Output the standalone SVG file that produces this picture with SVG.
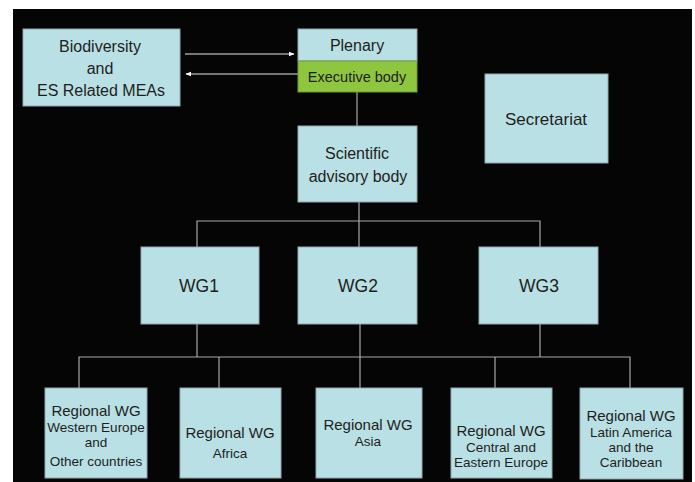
<svg xmlns="http://www.w3.org/2000/svg" width="695" height="482" viewBox="0 0 695 482">
<defs>
<style>
.box{fill:#b9e0e4;stroke:#8fa9ad;stroke-width:1}
.green{fill:#8fc640;stroke:#6f9a30;stroke-width:1}
.t{font-family:"Liberation Sans",Arial,sans-serif;fill:#1e1e1e;text-anchor:middle}
.s{font-size:13.5px}
.l{stroke:#a8a8a8;stroke-width:1.2;fill:none}
.a{stroke:#e8e8e8;stroke-width:1.2;fill:none}
</style>
<marker id="ah" viewBox="0 0 10 10" refX="9" refY="5" markerWidth="5" markerHeight="5" orient="auto">
<path d="M0,1 L10,5 L0,9 z" fill="#ffffff"/>
</marker>
</defs>
<rect x="0" y="0" width="695" height="482" fill="#ffffff"/>
<rect x="13" y="9" width="679" height="473" fill="#050505"/>
<g id="connectors">
<line class="a" x1="185" y1="54" x2="294" y2="54" marker-end="url(#ah)"/>
<line class="a" x1="298" y1="74" x2="186" y2="74" marker-end="url(#ah)"/>
<line class="l" x1="357" y1="92" x2="357" y2="126"/>
<line class="l" x1="359" y1="202" x2="359" y2="247"/>
<polyline class="l" points="197,247 197,221 540,221 540,247"/>
<line class="l" x1="197" y1="324" x2="197" y2="357"/>
<line class="l" x1="360" y1="324" x2="360" y2="388"/>
<line class="l" x1="540" y1="324" x2="540" y2="357"/>
<polyline class="l" points="79,388 79,357 630,357 630,388"/>
<line class="l" x1="219" y1="357" x2="219" y2="388"/>
<line class="l" x1="495" y1="357" x2="495" y2="388"/>
</g>
<g id="biodiversity">
<rect class="box" x="23" y="29" width="157" height="77"/>
<text class="t" font-size="16" x="100" y="52">Biodiversity</text>
<text class="t" font-size="16" x="100" y="74">and</text>
<text class="t" font-size="16" x="101" y="96">ES Related MEAs</text>
</g>
<g id="plenary">
<rect class="box" x="298" y="29" width="119" height="32"/>
<text class="t" font-size="16" x="357" y="51">Plenary</text>
</g>
<g id="executive">
<rect class="green" x="298" y="61" width="119" height="31"/>
<text class="t" font-size="14.5" x="357" y="82">Executive body</text>
</g>
<g id="secretariat">
<rect class="box" x="485" y="74" width="123" height="89"/>
<text class="t" font-size="17" x="546" y="125">Secretariat</text>
</g>
<g id="scientific">
<rect class="box" x="298" y="126" width="119" height="76"/>
<text class="t" font-size="16" x="357" y="159">Scientific</text>
<text class="t" font-size="16" x="358" y="182">advisory body</text>
</g>
<g id="wg1">
<rect class="box" x="141" y="247" width="118" height="77"/>
<text class="t" font-size="17.5" x="199" y="292">WG1</text>
</g>
<g id="wg2">
<rect class="box" x="298" y="247" width="119" height="77"/>
<text class="t" font-size="17.5" x="358" y="292">WG2</text>
</g>
<g id="wg3">
<rect class="box" x="479" y="247" width="119" height="77"/>
<text class="t" font-size="17.5" x="539" y="292">WG3</text>
</g>
<g id="rwg-western-europe">
<rect class="box" x="45" y="388" width="102" height="90"/>
<text class="t" font-size="15" x="96" y="416">Regional WG</text>
<text class="t s" x="96" y="432">Western Europe</text>
<text class="t s" x="96" y="447">and</text>
<text class="t s" x="96" y="466">Other countries</text>
</g>
<g id="rwg-africa">
<rect class="box" x="180" y="388" width="101" height="90"/>
<text class="t" font-size="15" x="230" y="438">Regional WG</text>
<text class="t s" x="230" y="458">Africa</text>
</g>
<g id="rwg-asia">
<rect class="box" x="316" y="388" width="106" height="90"/>
<text class="t" font-size="15" x="368" y="430">Regional WG</text>
<text class="t s" x="368" y="446">Asia</text>
</g>
<g id="rwg-central-eastern-europe">
<rect class="box" x="451" y="388" width="101" height="90"/>
<text class="t" font-size="15" x="501" y="436">Regional WG</text>
<text class="t s" x="501" y="452">Central and</text>
<text class="t s" x="501" y="467">Eastern Europe</text>
</g>
<g id="rwg-latin-america">
<rect class="box" x="580" y="388" width="103" height="91"/>
<text class="t" font-size="15" x="631" y="421">Regional WG</text>
<text class="t s" x="631" y="437">Latin America</text>
<text class="t s" x="631" y="452">and the</text>
<text class="t s" x="631" y="467">Caribbean</text>
</g>
</svg>
